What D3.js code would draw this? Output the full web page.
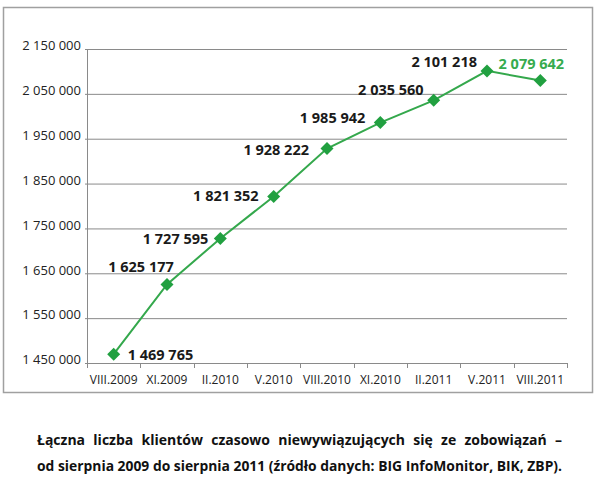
<!DOCTYPE html>
<html><head><meta charset="utf-8">
<script src="https://cdn.jsdelivr.net/npm/d3@7"></script>
<style>
html,body{margin:0;padding:0;background:#fff;}
svg{display:block;}
</style></head>
<body>
<svg id="c" width="600" height="477"></svg>
<script>
const categories = ["VIII.2009","XI.2009","II.2010","V.2010","VIII.2010","XI.2010","II.2011","V.2011","VIII.2011"];
const values = [1469765,1625177,1727595,1821352,1928222,1985942,2035560,2101218,2079642];
const yTicks = [1450000,1550000,1650000,1750000,1850000,1950000,2050000,2150000];
const captionLines = [
  "Łączna liczba klientów czasowo niewywiązujących się ze zobowiązań –",
  "od sierpnia 2009 do sierpnia 2011 (źródło danych: BIG InfoMonitor, BIK, ZBP)."
];
// label placement relative to each point: [anchor, dx, dy]
const labelPlace = [["start",14,1],["middle",-26,-18],["end",-12,0],["end",-15,-1],["end",-18,1],["end",-15,-5],["end",-10,-11],["end",-10,-9],["middle",-9,-17]];

const svg = d3.select("#c");
const fmt = d3.formatLocale({decimal:",",thousands:" ",grouping:[3],currency:["",""]}).format(",d");

svg.append("rect").attr("x",3.5).attr("y",7.5).attr("width",589).attr("height",385)
  .attr("fill","#fff").attr("stroke","#a0a0a0").attr("stroke-width",1.5);

const L=87, R=567, T=49, B=363;
const x = d3.scaleBand().domain(categories).range([L,R]);
const y = d3.scaleLinear().domain([1450000,2150000]).range([B,T]);

// gridlines
svg.append("g").selectAll("line").data(yTicks).join("line")
  .attr("x1",L-2).attr("x2",R).attr("y1",d=>y(d)+0.5).attr("y2",d=>y(d)+0.5)
  .attr("stroke","#8a8a8a").attr("stroke-width",1);

// y axis line
svg.append("line").attr("x1",L+0.5).attr("x2",L+0.5).attr("y1",T).attr("y2",B+4)
  .attr("stroke","#8a8a8a");

// y labels
svg.append("g").selectAll("text").data(yTicks).join("text")
  .attr("x",L-6).attr("y",d=>y(d)).attr("dy","0.1em")
  .attr("text-anchor","end").attr("font-family","Open Sans").attr("font-size",13)
  .attr("fill","#222").text(d=>fmt(d));

// x ticks
const xt = categories.map(c=>x(c)).concat([R]);
svg.append("g").selectAll("line").data(xt).join("line")
  .attr("x1",d=>Math.round(d)+0.5).attr("x2",d=>Math.round(d)+0.5).attr("y1",B).attr("y2",B+5)
  .attr("stroke","#8a8a8a");

svg.append("g").selectAll("text").data(categories).join("text")
  .attr("x",d=>x(d)+x.bandwidth()/2).attr("y",B+21)
  .attr("text-anchor","middle").attr("font-family","Open Sans").attr("font-size",12)
  .attr("fill","#222").text(d=>d);

// line
const pts = categories.map((c,i)=>[x(c)+x.bandwidth()/2, y(values[i])]);
svg.append("path").attr("d",d3.line()(pts)).attr("fill","none")
  .attr("stroke","#34a84c").attr("stroke-width",2);

svg.append("g").selectAll("path").data(pts).join("path")
  .attr("transform",d=>`translate(${d[0]},${d[1]})`)
  .attr("d","M0,-6.5L6.5,0L0,6.5L-6.5,0Z").attr("fill","#21a040");

// data labels
svg.append("g").selectAll("text").data(values).join("text")
  .attr("x",(d,i)=>pts[i][0]+labelPlace[i][1])
  .attr("y",(d,i)=>pts[i][1]+labelPlace[i][2])
  .attr("dy","0.36em")
  .attr("text-anchor",(d,i)=>labelPlace[i][0])
  .attr("font-family","Open Sans").attr("font-weight","bold").attr("font-size",14.5)
  .attr("fill",(d,i)=>i===values.length-1?"#36ab4e":"#1a1a1a")
  .text(d=>fmt(d));

// caption
const capX0 = 37, capX1 = 562;
captionLines.forEach((t,i)=>{
  const tx = svg.append("text").attr("x",capX0).attr("y",445+i*26)
    .attr("font-family","Open Sans").attr("font-weight","bold").attr("font-size",14)
    .attr("fill","#111").text(t);
  const w = tx.node().getComputedTextLength();
  const target = capX1-capX0;
  if (i===0) {
    const gaps = t.split(" ").length-1;
    const ws = (target - w)/gaps;
    if (ws>0) tx.attr("word-spacing",ws);
    else tx.attr("textLength",target).attr("lengthAdjust","spacingAndGlyphs");
  } else {
    tx.attr("textLength",target).attr("lengthAdjust","spacingAndGlyphs");
  }
});
</script>
</body></html>
